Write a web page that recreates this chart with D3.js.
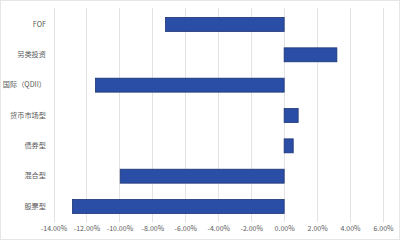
<!DOCTYPE html>
<html><head><meta charset="utf-8">
<script src="https://cdn.jsdelivr.net/npm/d3@7"></script>
<style>html,body{margin:0;padding:0;background:#fff;}svg{display:block;}</style>
</head><body>
<svg id="c" width="400" height="240"></svg>
<script>
const categories = ["FOF","另类投资","国际（QDII）","货币市场型","债券型","混合型","股票型"];
const values = [-7.2, 3.2, -11.45, 0.85, 0.55, -9.95, -12.85];
const ticks = [-14,-12,-10,-8,-6,-4,-2,0,2,4,6];

const svg = d3.select("#c");
svg.append("rect").attr("x",0.5).attr("y",0.5).attr("width",399).attr("height",239)
  .attr("fill","#fff").attr("stroke","#e6e6e6");

const x = d3.scaleLinear().domain([-14,6]).range([53.5,383]);
const y = d3.scaleBand().domain(categories).range([9.3,221.7]).paddingInner(0.54).paddingOuter(0.27);

const font = "'Noto Sans CJK SC','Noto Sans',sans-serif";

// gridlines
svg.append("g").selectAll("line").data(ticks).join("line")
  .attr("x1",d=>Math.round(x(d))+0.5).attr("x2",d=>Math.round(x(d))+0.5)
  .attr("y1",8).attr("y2",222)
  .attr("stroke","#e3e3e3").attr("stroke-width",1);

// x axis labels
const xa = d3.axisBottom(x).tickValues(ticks).tickSize(0).tickFormat(d=>d.toFixed(2)+"%");
const gx = svg.append("g").attr("transform","translate(0,224)").call(xa);
gx.select(".domain").remove();
gx.selectAll("text").attr("font-family",font).attr("font-size",7).attr("fill","#595959").attr("dy","0.6em");

// y labels
const ya = d3.axisLeft(y).tickSize(0).tickPadding(0);
const gy = svg.append("g").attr("transform","translate(46,0)").call(ya);
gy.select(".domain").remove();
gy.selectAll("text").attr("font-family",font).attr("font-size",7.2).attr("fill","#595959");

// bars
svg.append("g").selectAll("rect").data(values).join("rect")
  .attr("x",d=>x(Math.min(0,d)))
  .attr("width",d=>Math.abs(x(d)-x(0)))
  .attr("y",(d,i)=>y(categories[i]))
  .attr("height",y.bandwidth())
  .attr("fill","#2a4ea6").attr("stroke","#1c3475").attr("stroke-width",0.8);
</script>
</body></html>
